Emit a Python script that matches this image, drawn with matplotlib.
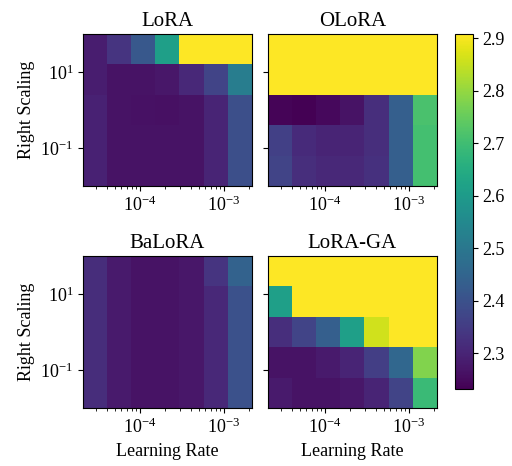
import numpy as np
import matplotlib
matplotlib.use("Agg")
import matplotlib.pyplot as plt
from matplotlib.ticker import LogLocator, NullLocator

plt.rcParams['font.family'] = ['Liberation Serif', 'DejaVu Serif']
plt.rcParams['mathtext.fontset'] = 'stix'

# learning rates (columns) and right scaling values (rows, bottom to top)
learning_rates = [2.9e-5, 5.6e-5, 1.09e-4, 2.1e-4, 4.1e-4, 8.0e-4, 1.55e-3]
right_scaling = [0.025, 0.158, 1.0, 6.3, 39.8]

methods = ["LoRA", "OLoRA", "BaLoRA", "LoRA-GA"]

# eval loss, rows listed top (largest scaling) to bottom
loss_lora = [
    [2.286, 2.333, 2.415, 2.610, 3.100, 3.100, 3.100],
    [2.286, 2.266, 2.266, 2.273, 2.306, 2.367, 2.516],
    [2.293, 2.266, 2.262, 2.259, 2.266, 2.300, 2.394],
    [2.293, 2.266, 2.264, 2.264, 2.266, 2.300, 2.394],
    [2.293, 2.266, 2.264, 2.264, 2.266, 2.300, 2.394],
]
loss_olora = [
    [3.100, 3.100, 3.100, 3.100, 3.100, 3.100, 3.100],
    [3.100, 3.100, 3.100, 3.100, 3.100, 3.100, 3.100],
    [2.239, 2.232, 2.246, 2.266, 2.320, 2.435, 2.715],
    [2.361, 2.313, 2.300, 2.300, 2.320, 2.435, 2.705],
    [2.367, 2.320, 2.306, 2.306, 2.327, 2.435, 2.705],
]
loss_balora = [
    [2.318, 2.279, 2.266, 2.266, 2.273, 2.333, 2.442],
    [2.318, 2.279, 2.266, 2.266, 2.273, 2.306, 2.401],
    [2.318, 2.279, 2.266, 2.266, 2.273, 2.306, 2.401],
    [2.318, 2.279, 2.266, 2.266, 2.273, 2.306, 2.401],
    [2.318, 2.279, 2.266, 2.266, 2.273, 2.306, 2.401],
]
loss_loraga = [
    [3.100, 3.100, 3.100, 3.100, 3.100, 3.100, 3.100],
    [2.610, 3.100, 3.100, 3.100, 3.100, 3.100, 3.100],
    [2.320, 2.367, 2.435, 2.610, 2.860, 3.100, 3.100],
    [2.266, 2.266, 2.279, 2.300, 2.354, 2.455, 2.780],
    [2.279, 2.266, 2.266, 2.273, 2.300, 2.367, 2.690],
]
all_losses = [loss_lora, loss_olora, loss_balora, loss_loraga]

vmin, vmax = 2.232, 2.908


def log_edges(centers):
    c = np.log10(centers)
    mid = (c[:-1] + c[1:]) / 2
    first = c[0] - (mid[0] - c[0])
    last = c[-1] + (c[-1] - mid[-1])
    return 10 ** np.concatenate([[first], mid, [last]])


x_edges = log_edges(learning_rates)
y_edges = log_edges(right_scaling)

W, H = 512, 466
fig = plt.figure(figsize=(W / 100, H / 100), dpi=100)

# axes boxes in pixels: left, top, width, height
boxes = [(83, 34, 169, 152), (268, 34, 169, 152),
         (83, 256, 169, 152), (268, 256, 169, 152)]

mesh = None
for i, (name, loss, box) in enumerate(zip(methods, all_losses, boxes)):
    l, t, w, h = box
    ax = fig.add_axes([l / W, (H - t - h) / H, w / W, h / H])
    Z = np.array(loss)[::-1]  # flip so row 0 is smallest scaling
    mesh = ax.pcolormesh(x_edges, y_edges, Z, cmap='viridis', vmin=vmin, vmax=vmax)
    ax.set_xscale('log')
    ax.set_yscale('log')
    ax.set_xlim(x_edges[0], x_edges[-1])
    ax.set_ylim(y_edges[0], y_edges[-1])
    ax.set_xticks([1e-4, 1e-3])
    ax.xaxis.set_minor_locator(LogLocator(base=10, subs=np.arange(2, 10)))
    ax.set_yticks([1e-1, 1e1])
    ax.yaxis.set_minor_locator(NullLocator())
    ax.tick_params(labelsize=13)
    ax.set_title(name, fontsize=15)
    if i % 2 == 0:
        ax.set_ylabel("Right Scaling", fontsize=13)
    else:
        ax.set_yticklabels([])
    if i >= 2:
        ax.set_xlabel("Learning Rate", fontsize=13)

cax = fig.add_axes([455 / W, (H - 389) / H, 18 / W, 355 / H])
cb = fig.colorbar(mesh, cax=cax)
cb.set_ticks([2.3, 2.4, 2.5, 2.6, 2.7, 2.8, 2.9])
cb.ax.tick_params(labelsize=13)

fig.savefig("out.png", dpi=100)
